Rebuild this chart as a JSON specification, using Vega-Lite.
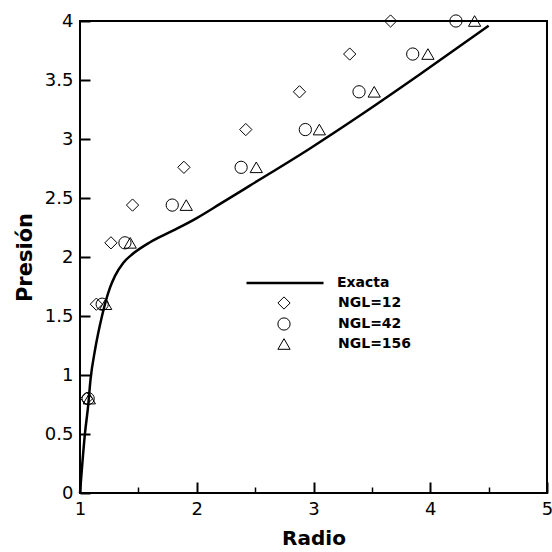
{
  "$schema": "https://vega.github.io/schema/vega-lite/v6.json",
  "autosize": {"type": "none"},
  "padding": {"left": 80, "top": 21, "right": 5, "bottom": 59},
  "width": 467,
  "height": 472,
  "background": "white",
  "config": {
    "view": {"stroke": "black", "strokeWidth": 2},
    "axis": {
      "labelFont": "DejaVu Sans",
      "labelFontSize": 18,
      "labelColor": "black",
      "titleFont": "DejaVu Sans",
      "titleFontSize": 20,
      "titleFontWeight": "bold",
      "titleColor": "black",
      "tickColor": "black",
      "grid": false,
      "domain": false
    },
    "legend": {
      "labelFont": "DejaVu Sans",
      "labelFontSize": 14,
      "labelFontWeight": "bold",
      "labelColor": "black",
      "padding": 0
    }
  },
  "data": {
    "values": [
      {"r": 1.0, "p": 0.0, "s": "Exacta"},
      {"r": 1.043, "p": 0.51, "s": "Exacta"},
      {"r": 1.07, "p": 0.74, "s": "Exacta"},
      {"r": 1.09, "p": 0.96, "s": "Exacta"},
      {"r": 1.13, "p": 1.22, "s": "Exacta"},
      {"r": 1.186, "p": 1.49, "s": "Exacta"},
      {"r": 1.257, "p": 1.74, "s": "Exacta"},
      {"r": 1.3, "p": 1.84, "s": "Exacta"},
      {"r": 1.37, "p": 1.95, "s": "Exacta"},
      {"r": 1.45, "p": 2.025, "s": "Exacta"},
      {"r": 1.6, "p": 2.125, "s": "Exacta"},
      {"r": 1.8, "p": 2.225, "s": "Exacta"},
      {"r": 2.0, "p": 2.33, "s": "Exacta"},
      {"r": 2.2, "p": 2.45, "s": "Exacta"},
      {"r": 2.455, "p": 2.605, "s": "Exacta"},
      {"r": 2.97, "p": 2.92, "s": "Exacta"},
      {"r": 3.43, "p": 3.22, "s": "Exacta"},
      {"r": 3.9, "p": 3.54, "s": "Exacta"},
      {"r": 4.5, "p": 3.96, "s": "Exacta"},
      {"r": 1.057, "p": 0.8, "s": "NGL=12"},
      {"r": 1.14, "p": 1.6, "s": "NGL=12"},
      {"r": 1.265, "p": 2.12, "s": "NGL=12"},
      {"r": 1.45, "p": 2.44, "s": "NGL=12"},
      {"r": 1.89, "p": 2.76, "s": "NGL=12"},
      {"r": 2.42, "p": 3.08, "s": "NGL=12"},
      {"r": 2.88, "p": 3.4, "s": "NGL=12"},
      {"r": 3.31, "p": 3.72, "s": "NGL=12"},
      {"r": 3.66, "p": 4.0, "s": "NGL=12"},
      {"r": 1.07, "p": 0.8, "s": "NGL=42"},
      {"r": 1.19, "p": 1.6, "s": "NGL=42"},
      {"r": 1.385, "p": 2.12, "s": "NGL=42"},
      {"r": 1.79, "p": 2.44, "s": "NGL=42"},
      {"r": 2.38, "p": 2.76, "s": "NGL=42"},
      {"r": 2.93, "p": 3.08, "s": "NGL=42"},
      {"r": 3.39, "p": 3.4, "s": "NGL=42"},
      {"r": 3.85, "p": 3.72, "s": "NGL=42"},
      {"r": 4.22, "p": 4.0, "s": "NGL=42"},
      {"r": 1.08, "p": 0.8, "s": "NGL=156"},
      {"r": 1.22, "p": 1.6, "s": "NGL=156"},
      {"r": 1.43, "p": 2.12, "s": "NGL=156"},
      {"r": 1.91, "p": 2.44, "s": "NGL=156"},
      {"r": 2.51, "p": 2.76, "s": "NGL=156"},
      {"r": 3.05, "p": 3.08, "s": "NGL=156"},
      {"r": 3.52, "p": 3.4, "s": "NGL=156"},
      {"r": 3.98, "p": 3.72, "s": "NGL=156"},
      {"r": 4.38, "p": 4.0, "s": "NGL=156"}
    ]
  },
  "resolve": {"axis": {"x": "independent"}, "legend": {"color": "independent", "shape": "independent"}},
  "layer": [
    {
      "transform": [{"filter": "datum.s === 'Exacta'"}],
      "mark": {"type": "line", "interpolate": "monotone", "strokeWidth": 2.5, "clip": false},
      "encoding": {
        "x": {"field": "r", "type": "quantitative", "scale": {"domain": [1, 5], "nice": false, "zero": false},
          "axis": {"orient": "bottom", "values": [1, 2, 3, 4, 5], "tickSize": -11, "tickWidth": 2, "labelPadding": 18, "labelFlush": false, "title": "Radio", "titlePadding": 10}},
        "y": {"field": "p", "type": "quantitative", "scale": {"domain": [0, 4], "nice": false, "zero": false},
          "axis": {"values": [0, 0.5, 1, 1.5, 2, 2.5, 3, 3.5, 4], "format": "~g", "tickSize": -10, "tickWidth": 2, "labelPadding": 17, "labelFlush": false, "title": "Presión", "titleFontSize": 21, "titlePadding": 9}},
        "color": {"field": "s", "type": "nominal", "scale": {"domain": ["Exacta"], "range": ["black"]},
          "legend": {"title": null, "orient": "none", "legendX": 165, "legendY": 222, "symbolType": "stroke", "symbolSize": 5929, "symbolStrokeWidth": 2.5, "labelOffset": 12}}
      }
    },
    {
      "transform": [{"filter": "datum.s !== 'Exacta'"}],
      "mark": {"type": "point", "filled": false, "color": "black", "strokeWidth": 1, "size": 150, "opacity": 1, "clip": false},
      "encoding": {
        "x": {"field": "r", "type": "quantitative", "scale": {"domain": [1, 5], "nice": false, "zero": false},
          "axis": {"orient": "bottom", "values": [1.5, 2.5, 3.5, 4.5], "tickSize": -6, "tickWidth": 1.5, "labels": false, "title": null}},
        "y": {"field": "p", "type": "quantitative"},
        "shape": {"field": "s", "type": "nominal", "scale": {"domain": ["NGL=12", "NGL=42", "NGL=156"], "range": ["diamond", "circle", "triangle-up"]},
          "legend": {"title": null, "orient": "none", "legendX": 197, "legendY": 275, "symbolSize": 150, "symbolFillColor": "white", "symbolStrokeColor": "black", "symbolStrokeWidth": 1, "labelOffset": 47, "rowPadding": 3}}
      }
    }
  ]
}
